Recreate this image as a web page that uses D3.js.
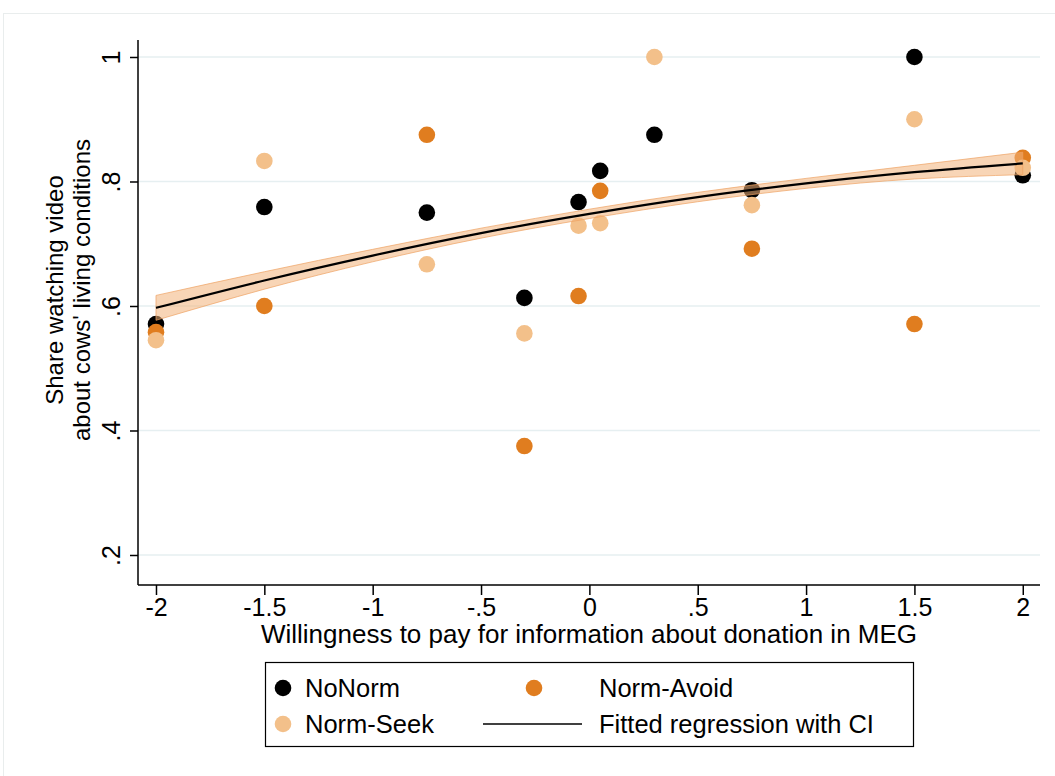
<!DOCTYPE html>
<html><head><meta charset="utf-8">
<script src="https://cdn.jsdelivr.net/npm/d3@7/dist/d3.min.js"></script>
<style>body{margin:0;background:#fff}svg{display:block}text{font-family:"Liberation Sans",Arial,Helvetica,sans-serif;fill:#000}</style>
</head><body>
<svg id="c" width="1055" height="776"></svg>
<script>
// ---- data ----
const xValues = [-2, -1.5, -0.75, -0.3, -0.05, 0.05, 0.3, 0.75, 1.5, 2];
const noNorm    = [0.571, 0.759, 0.750, 0.613, 0.767, 0.817, 0.875, 0.786, 1.000, 0.810];
const normAvoid = [0.558, 0.600, 0.875, 0.375, 0.616, 0.785, null,  0.692, 0.571, 0.838];
const normSeek  = [0.545, 0.833, 0.667, 0.556, 0.729, 0.733, 1.000, 0.762, 0.900, 0.822];
const fitX  = [-2, -1.5, -1, -0.5, 0, 0.5, 1, 1.5, 2];
const fitY  = [0.597, 0.641, 0.681, 0.717, 0.748, 0.775, 0.797, 0.815, 0.829];
const ciLow = [0.577, 0.627, 0.671, 0.709, 0.7405, 0.7675, 0.789, 0.804, 0.811];
const ciHigh= [0.617, 0.655, 0.691, 0.725, 0.7555, 0.7825, 0.805, 0.826, 0.847];
const xTicks = [-2, -1.5, -1, -0.5, 0, 0.5, 1, 1.5, 2];
const xTickLabels = ["-2", "-1.5", "-1", "-.5", "0", ".5", "1", "1.5", "2"];
const yTicks = [0.2, 0.4, 0.6, 0.8, 1];
const yTickLabels = [".2", ".4", ".6", ".8", "1"];
const seriesNames = ["NoNorm", "Norm-Avoid", "Norm-Seek", "Fitted regression with CI"];
const colors = {NoNorm: "#000000", "Norm-Avoid": "#e07d1f", "Norm-Seek": "#f3c08a"};

// ---- layout ----
const svg = d3.select("#c");
const L = 138, R = 1040, T = 40, B = 585;
const x = d3.scaleLinear().domain([-2.083, 2.0795]).range([L, R]);
const y = d3.scaleLinear().domain([0.1518, 1.0273]).range([B, T]);

svg.append("rect").attr("x", 3.5).attr("y", 13.5).attr("width", 1060).attr("height", 780)
  .attr("fill", "none").attr("stroke", "#e9eded").attr("stroke-width", 1);

// gridlines
svg.append("g").selectAll("line").data(yTicks).join("line")
  .attr("x1", L).attr("x2", R).attr("y1", d => y(d)).attr("y2", d => y(d))
  .attr("stroke", "#e6eff1").attr("stroke-width", 1.5);

// axes
const yAxis = d3.axisLeft(y).tickValues(yTicks).tickSize(8).tickFormat((d, i) => yTickLabels[i]);
const gy = svg.append("g").attr("transform", `translate(${L},0)`).call(yAxis);
gy.select(".domain").attr("d", `M0,${T}V${B}`).attr("stroke", "#000").attr("stroke-width", 1.5);
gy.selectAll(".tick line").attr("stroke", "#000").attr("stroke-width", 1.5);
gy.selectAll(".tick text").attr("font-size", 25).attr("text-anchor", "middle")
  .attr("transform", "translate(-18,0) rotate(-90)").attr("x", 0).attr("y", 0).attr("dy", "0");

const xAxis = d3.axisBottom(x).tickValues(xTicks).tickSize(10).tickFormat((d, i) => xTickLabels[i]);
const gx = svg.append("g").attr("transform", `translate(0,${B})`).call(xAxis);
gx.select(".domain").attr("d", `M${L},0H${R}`).attr("stroke", "#000").attr("stroke-width", 1.5);
gx.selectAll(".tick line").attr("stroke", "#000").attr("stroke-width", 1.5);
gx.selectAll(".tick text").attr("font-size", 25).attr("y", 13).attr("dy", "0.71em");

// axis titles
svg.append("text").attr("x", (L + R) / 2).attr("y", 643).attr("text-anchor", "middle")
  .attr("font-size", 26).text("Willingness to pay for information about donation in MEG");
const yt = svg.append("text").attr("transform", "translate(0,290) rotate(-90)").attr("text-anchor", "middle").attr("font-size", 24);
yt.append("tspan").attr("x", 0).attr("y", 63).text("Share watching video");
yt.append("tspan").attr("x", 0).attr("y", 90).text("about cows' living conditions");

// points
const series = [["NoNorm", noNorm], ["Norm-Avoid", normAvoid], ["Norm-Seek", normSeek]];
series.forEach(([name, vals]) => {
  svg.append("g").selectAll("circle")
    .data(vals.map((v, i) => ({x: xValues[i], v})).filter(d => d.v !== null))
    .join("circle").attr("cx", d => x(d.x)).attr("cy", d => y(d.v)).attr("r", 8.3)
    .attr("fill", colors[name]);
});

// fitted regression with CI
const fit = fitX.map((fx, i) => ({x: fx, y: fitY[i], lo: ciLow[i], hi: ciHigh[i]}));
svg.append("path").datum(fit)
  .attr("d", d3.area().x(d => x(d.x)).y0(d => y(d.lo)).y1(d => y(d.hi)).curve(d3.curveNatural))
  .attr("fill", "#f2b27a").attr("fill-opacity", 0.55).attr("stroke", "#eea264").attr("stroke-opacity", 0.7).attr("stroke-width", 1);
svg.append("path").datum(fit)
  .attr("d", d3.line().x(d => x(d.x)).y(d => y(d.y)).curve(d3.curveNatural))
  .attr("fill", "none").attr("stroke", "#000").attr("stroke-width", 2.2);

// legend
const lg = svg.append("g");
lg.append("rect").attr("x", 265.5).attr("y", 662.5).attr("width", 648).attr("height", 84)
  .attr("fill", "#fff").attr("stroke", "#000").attr("stroke-width", 1.2);
const items = [
  {name: seriesNames[0], mx: 283, tx: 305, ty: 688, type: "dot"},
  {name: seriesNames[1], mx: 534, tx: 599, ty: 688, type: "dot"},
  {name: seriesNames[2], mx: 283, tx: 305, ty: 724, type: "dot"},
  {name: seriesNames[3], mx: 0,   tx: 599, ty: 724, type: "line"}
];
items.forEach(it => {
  if (it.type === "dot") {
    lg.append("circle").attr("cx", it.mx).attr("cy", it.ty).attr("r", 8.3).attr("fill", colors[it.name]);
  } else {
    lg.append("line").attr("x1", 483).attr("x2", 582).attr("y1", it.ty).attr("y2", it.ty)
      .attr("stroke", "#000").attr("stroke-width", 1.5);
  }
  lg.append("text").attr("x", it.tx).attr("y", it.ty).attr("dy", "0.35em").attr("font-size", 25.5).text(it.name);
});
</script>
</body></html>
